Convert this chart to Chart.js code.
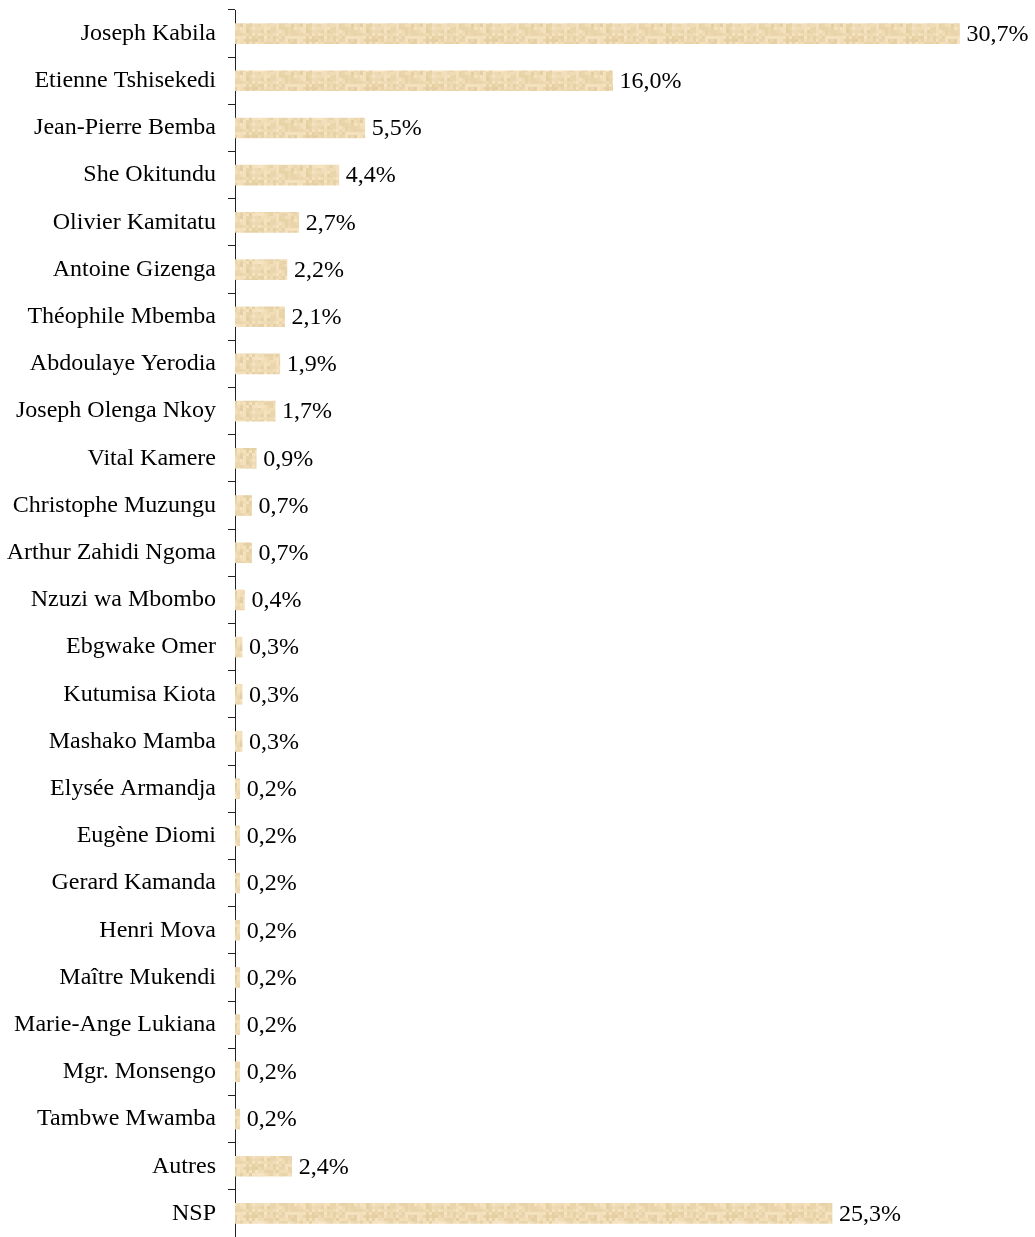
<!DOCTYPE html>
<html>
<head>
<meta charset="utf-8">
<title>Sondage présidentielle</title>
<script src="https://cdn.jsdelivr.net/npm/chart.js@4/dist/chart.umd.min.js"></script>
<style>
  html, body { margin: 0; padding: 0; background: #fff; }
  #wrap { width: 1035px; height: 1237px; position: relative; }
</style>
</head>
<body>
<div id="wrap"><canvas id="myChart"></canvas></div>
<script>
/*******************************
* DATA
********************************/
var candidates = ["Joseph Kabila", "Etienne Tshisekedi", "Jean-Pierre Bemba", "She Okitundu",
  "Olivier Kamitatu", "Antoine Gizenga", "Théophile Mbemba", "Abdoulaye Yerodia",
  "Joseph Olenga Nkoy", "Vital Kamere", "Christophe Muzungu", "Arthur Zahidi Ngoma",
  "Nzuzi wa Mbombo", "Ebgwake Omer", "Kutumisa Kiota", "Mashako Mamba",
  "Elysée Armandja", "Eugène Diomi", "Gerard Kamanda", "Henri Mova",
  "Maître Mukendi", "Marie-Ange Lukiana", "Mgr. Monsengo", "Tambwe Mwamba",
  "Autres", "NSP"];
var shares = [30.7, 16.0, 5.5, 4.4, 2.7, 2.2, 2.1, 1.9, 1.7, 0.9, 0.7, 0.7, 0.4,
  0.3, 0.3, 0.3, 0.2, 0.2, 0.2, 0.2, 0.2, 0.2, 0.2, 0.2, 2.4, 25.3];

(function(){
  var FONT = "'Liberation Serif', 'Times New Roman', serif";

  window.addEventListener('load', function() {
    app.init();
  });

  var app = {

    init: function() {
      app.chart();
    },

    /*******************************
    * Sandy texture for the bars (fixed seed, not data)
    ********************************/
    texture: function(ctx) {
      var c = document.createElement('canvas');
      c.width = 60; c.height = 24;
      var g = c.getContext('2d');
      var seed = 7;
      function rnd() { seed = (seed * 16807) % 2147483647; return seed / 2147483647; }
      for (var y = 0; y < c.height; y += 3) {
        for (var x = 0; x < c.width; x += 3) {
          var t = rnd();
          var r = Math.round(228 + t * 18);
          var gg = Math.round(205 + t * 23);
          var b = Math.round(160 + t * 34);
          g.fillStyle = 'rgb(' + r + ',' + gg + ',' + b + ')';
          g.fillRect(x, y, 3, 3);
        }
      }
      return ctx.createPattern(c, 'repeat');
    },

    chart: function() {
      var canvas = document.getElementById('myChart');
      var ctx = canvas.getContext('2d');

      // value labels at the end of each bar
      var valueLabels = {
        id: 'valueLabels',
        afterDatasetsDraw: function(chart) {
          var c = chart.ctx;
          var meta = chart.getDatasetMeta(0);
          c.save();
          c.font = '24px ' + FONT;
          c.fillStyle = '#000';
          c.textAlign = 'left';
          c.textBaseline = 'middle';
          meta.data.forEach(function(bar, i) {
            var txt = shares[i].toFixed(1).replace('.', ',') + '%';
            c.fillText(txt, bar.x + 7, bar.y + 1);
          });
          c.restore();
        }
      };

      new Chart(canvas, {
        type: 'bar',
        data: {
          labels: candidates,
          datasets: [{
            data: shares,
            backgroundColor: app.texture(ctx),
            borderWidth: 0,
            barThickness: 20
          }]
        },
        options: {
          indexAxis: 'y',
          responsive: true,
          maintainAspectRatio: false,
          animation: false,
          layout: { padding: { top: 10, bottom: 0, left: 0, right: 0 } },
          plugins: {
            legend: { display: false },
            tooltip: { enabled: false }
          },
          scales: {
            x: {
              display: false,
              min: 0,
              max: 33.9
            },
            y: {
              afterFit: function(scale) {
                scale.width = 235;
                scale.paddingTop = 0;
                scale.paddingBottom = 0;
              },
              grid: {
                drawOnChartArea: false,
                tickLength: 7,
                color: '#222',
                offset: true
              },
              border: { color: '#222', width: 1 },
              ticks: {
                color: '#000',
                padding: 12,
                font: { family: FONT, size: 24 }
              }
            }
          }
        },
        plugins: [valueLabels]
      });
    }
  };
})();
</script>
</body>
</html>
